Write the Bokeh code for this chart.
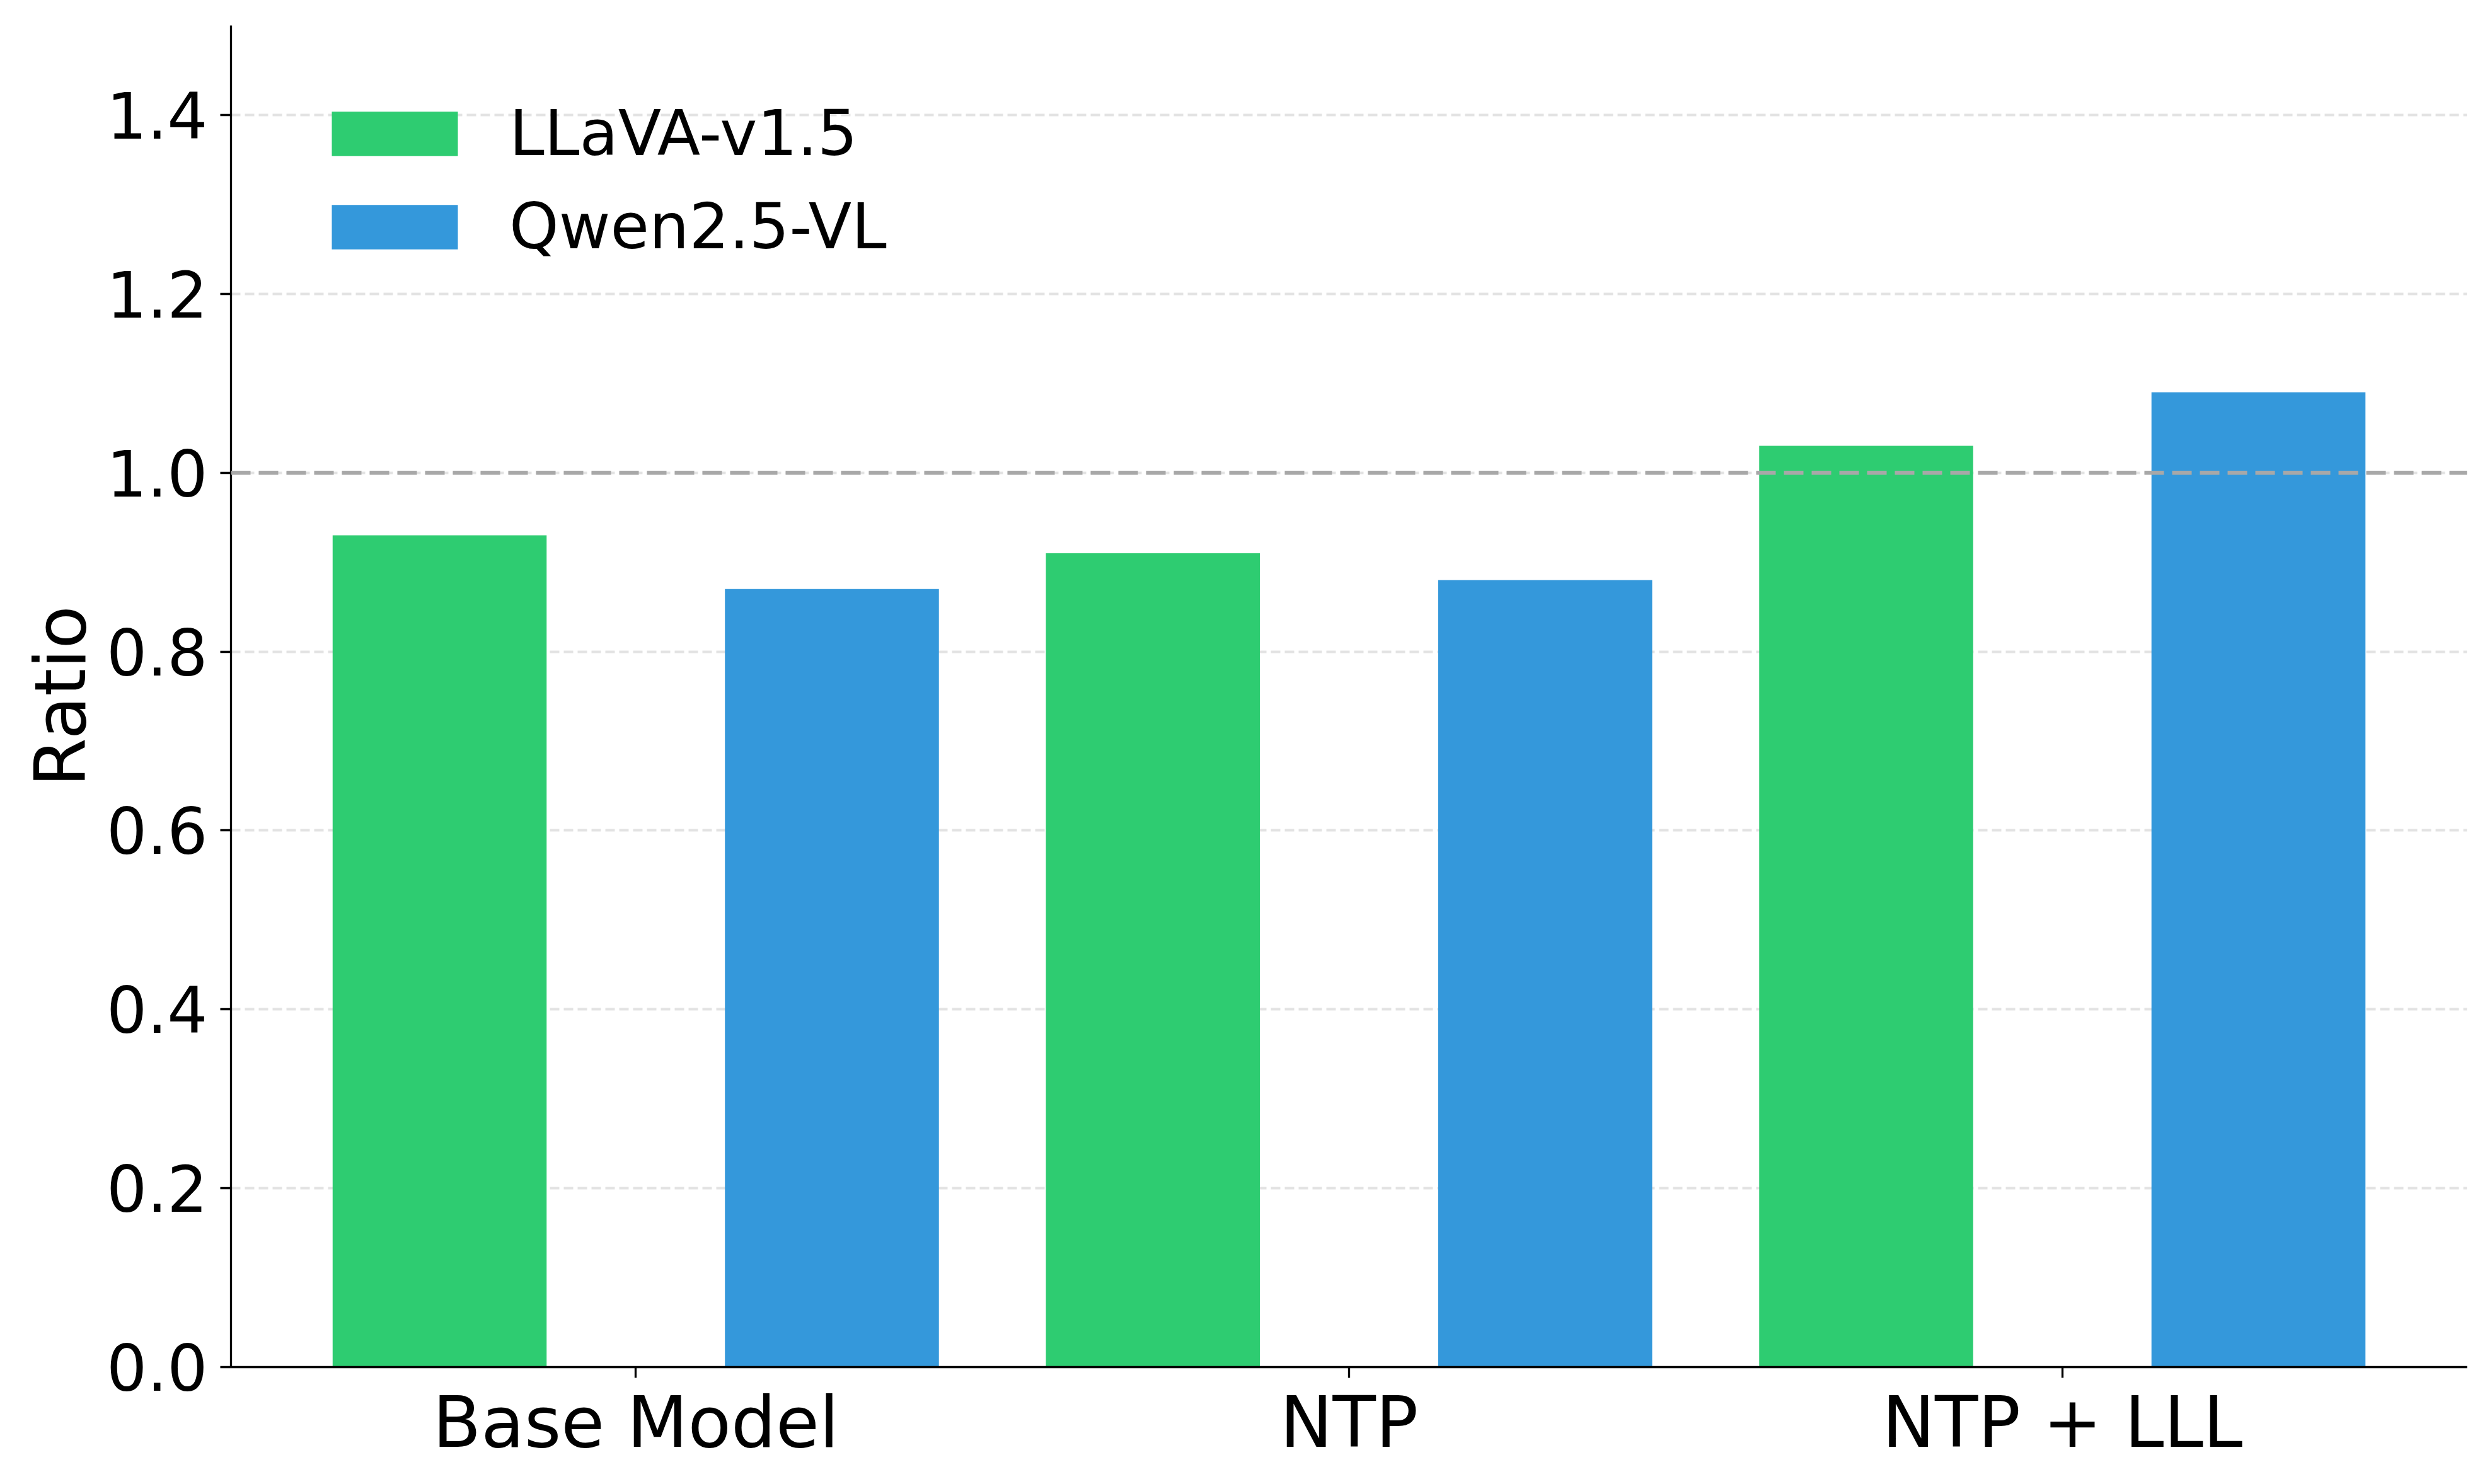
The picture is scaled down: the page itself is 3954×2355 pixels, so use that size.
from bokeh.plotting import figure
from bokeh.models import Range1d, FixedTicker, PrintfTickFormatter, Span, Legend, LegendItem
from bokeh.embed import file_html
from bokeh.resources import INLINE

categories = ["Base Model", "NTP", "NTP + LLL"]
series_names = ["LLaVA-v1.5", "Qwen2.5-VL"]
llava_values = [0.93, 0.91, 1.03]
qwen_values = [0.87, 0.88, 1.09]
y_ticks = [0.0, 0.2, 0.4, 0.6, 0.8, 1.0, 1.2, 1.4]
reference_level = 1.0

GREEN = "#2ecc71"
BLUE = "#3498db"
FONT = "DejaVu Sans"

bar_w = 0.3
offset = 0.275
xs = list(range(len(categories)))

p = figure(width=3938, height=2339, output_backend="svg", toolbar_location=None,
           x_range=Range1d(-0.5675, len(categories) - 1 + 0.5675),
           y_range=Range1d(0, 1.5),
           min_border_left=366, min_border_right=24, min_border_top=40, min_border_bottom=170)
p.outline_line_color = None
p.background_fill_color = "white"
p.border_fill_color = "white"

r1 = p.vbar(x=[x - offset for x in xs], top=llava_values, width=bar_w, fill_color=GREEN, line_color=None)
r2 = p.vbar(x=[x + offset for x in xs], top=qwen_values, width=bar_w, fill_color=BLUE, line_color=None)

span = Span(location=reference_level, dimension="width", line_color="#a8a8a8", line_width=6.5, line_dash="31 13")
p.add_layout(span)

# axes
p.xaxis.ticker = FixedTicker(ticks=xs)
p.xaxis.major_label_overrides = {i: c for i, c in enumerate(categories)}
p.yaxis.ticker = FixedTicker(ticks=y_ticks)
p.yaxis.formatter = PrintfTickFormatter(format="%.1f")
for ax in (p.xaxis, p.yaxis):
    ax.axis_line_width = 3.3
    ax.axis_line_color = "black"
    ax.major_tick_line_width = 3.3
    ax.major_tick_line_color = "black"
    ax.major_tick_out = 17
    ax.major_tick_in = 0
    ax.minor_tick_out = 0
    ax.minor_tick_in = 0
    ax.major_label_text_font = FONT
    ax.major_label_text_color = "black"
    ax.axis_label_text_font = FONT
    ax.axis_label_text_font_style = "normal"
    ax.axis_label_text_color = "black"
p.xaxis.major_label_text_font_size = "112px"
p.yaxis.major_label_text_font_size = "101px"
p.xaxis.major_label_standoff = 5
p.yaxis.major_label_standoff = 20
p.yaxis.axis_label = "Ratio"
p.yaxis.axis_label_text_font_size = "112px"
p.yaxis.axis_label_standoff = 5

p.xgrid.visible = False
p.ygrid.ticker = FixedTicker(ticks=y_ticks)
p.ygrid.grid_line_color = "#e3e3e3"
p.ygrid.grid_line_width = 4
p.ygrid.grid_line_dash = "15 7"

legend = Legend(items=[LegendItem(label=series_names[0], renderers=[r1]),
                       LegendItem(label=series_names[1], renderers=[r2])],
                location=(135, 1751))
legend.margin = 0
legend.padding = 0
legend.border_line_color = None
legend.background_fill_alpha = 0
legend.label_text_font = FONT
legend.label_text_font_size = "100px"
legend.label_text_color = "black"
legend.glyph_width = 250
legend.glyph_height = 88
legend.label_height = 88
legend.label_standoff = 57
legend.spacing = 31
p.add_layout(legend)

open("out.html", "w").write(file_html(p, INLINE))
